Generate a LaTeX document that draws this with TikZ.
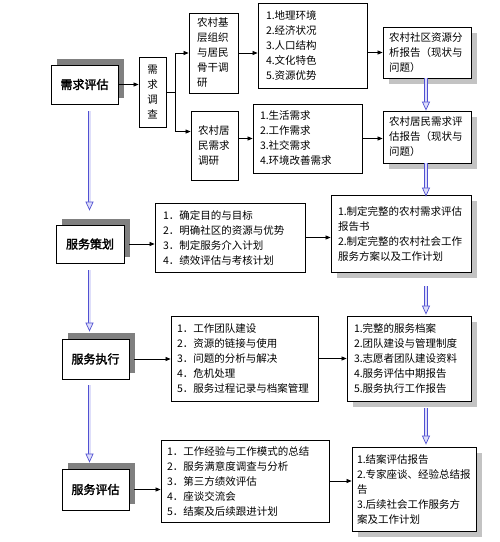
\documentclass[tikz,border=0pt]{standalone}
\usepackage{fontspec}
\newfontfamily\cjk[AutoFakeBold=2]{Noto Sans CJK SC}
\usetikzlibrary{arrows.meta,backgrounds,calc}
\definecolor{arrowblue}{RGB}{80,80,210}
\definecolor{arrowfill}{RGB}{222,222,250}
\definecolor{stageshade}{RGB}{128,128,128}
\definecolor{reportshade}{RGB}{195,195,195}

\begin{document}
\begin{tikzpicture}[x=1pt,y=-1pt,font=\cjk\fontsize{10.5pt}{15pt}\selectfont,
  box/.style={draw, line width=0.8pt, fill=white, inner ysep=0pt, align=left},
  stagebox/.style={box, align=center, inner xsep=0pt, minimum width=67pt, minimum height=40pt,
    font=\cjk\fontsize{12pt}{14pt}\selectfont\bfseries},
  reportbox/.style={box},
  link/.style={-{Triangle[length=5pt,width=4pt]}, line width=0.7pt},
  hollow/.style={draw=arrowblue, double=arrowfill, double distance=2pt, line width=0.7pt,
    -{Triangle[open, length=9pt, width=8pt, fill=arrowfill]}}]

  \useasboundingbox (0,0) rectangle (500,542);

  \node[stagebox, minimum height=39pt] (s1) at (84.5,84.5) {需求评估};
  \node[stagebox, minimum width=68pt, minimum height=38pt] (s2) at (90,244) {服务策划};
  \node[stagebox] (s3) at (95.5,359) {服务执行};
  \node[stagebox, minimum height=41pt] (s4) at (95.5,489.5) {服务评估};

  \node[box, align=center, inner xsep=0pt, minimum width=27pt, minimum height=70pt] (survey) at (152.5,92) {需\\求\\调\\查};
  \node[box, text width=33pt, inner xsep=8pt, minimum height=80pt] (cadre) at (213.5,53) {农村基\\层组织\\与居民\\骨干调\\研};
  \node[box, text width=33pt, inner xsep=7pt, minimum height=69pt] (resident) at (214.5,145.5) {农村居\\民需求\\调研};

  \node[box, text width=93pt, inner xsep=8pt, minimum height=85pt] (env) at (312.5,45.5) {1.地理环境\\2.经济状况\\3.人口结构\\4.文化特色\\5.资源优势};
  \node[box, text width=95pt, inner xsep=7pt, minimum height=69pt] (need) at (307.5,138.5) {1.生活需求\\2.工作需求\\3.社交需求\\4.环境改善需求};
  \node[reportbox, text width=76pt, inner xsep=6pt, minimum height=51pt] (res) at (427,52.5) {农村社区资源分\\析报告（现状与\\问题）};
  \node[reportbox, text width=76pt, inner xsep=6pt, minimum height=52pt] (needrep) at (427,137) {农村居民需求评\\估报告（现状与\\问题）};

  \node[box, text width=134pt, inner xsep=8pt, minimum height=69pt] (plan) at (230,237.5) {1．确定目的与目标\\2．明确社区的资源与优势\\3．制定服务介入计划\\4．绩效评估与考核计划};
  \node[reportbox, text width=126pt, inner xsep=7pt, minimum height=77pt] (planrep) at (401,233.5) {1.制定完整的农村需求评估\\报告书\\2.制定完整的农村社会工作\\服务方案以及工作计划};

  \node[box, text width=135pt, inner xsep=6pt, minimum height=85pt] (act) at (244.5,358.5) {1．工作团队建设\\2．资源的链接与使用\\3．问题的分析与解决\\4．危机处理\\5．服务过程记录与档案管理};
  \node[reportbox, text width=110pt, inner xsep=7pt, minimum height=85pt] (actrep) at (409,358.5) {1.完整的服务档案\\2.团队建设与管理制度\\3.志愿者团队建设资料\\4.服务评估中期报告\\5.服务执行工作报告};

  \node[box, text width=156pt, inner xsep=6pt, minimum height=82pt] (eval) at (245,481) {1．工作经验与工作模式的总结\\2．服务满意度调查与分析\\3．第三方绩效评估\\4．座谈交流会\\5．结案及后续跟进计划};
  \node[reportbox, text width=114pt, inner xsep=5pt, minimum height=84pt] (evalrep) at (414,489) {1.结案评估报告\\2.专家座谈、经验总结报\\告\\3.后续社会工作服务方\\案及工作计划};

  \begin{scope}[on background layer]
    \foreach \n in {s1,s2,s3,s4}
      \fill[stageshade] ([shift={(6pt,6pt)}]\n.south west) rectangle ([shift={(6pt,6pt)}]\n.north east);
    \foreach \n in {res,needrep,planrep,actrep,evalrep}
      \fill[reportshade] ([shift={(6pt,-6pt)}]\n.south west) rectangle ([shift={(6pt,-6pt)}]\n.north east);
  \end{scope}

  \draw[link] (s1.east) -- (s1.east -| survey.west);
  \draw[line width=0.7pt] (survey.east) -- ++(9,0) coordinate (fork);
  \draw[link] (fork) |- (cadre.west);
  \draw[link] (fork) |- ($(resident.north west)!0.3!(resident.south west)$);
  \draw[link] (cadre.east) -- (cadre.east -| env.west);
  \draw[link] (resident.east |- need.west) -- (need.west);
  \draw[link] (env.east |- res.west) -- (res.west);
  \draw[link] (need.east) -- (need.east -| needrep.west);

  \draw[link, shorten <=5pt] (s2.east) -- (s2.east -| plan.west);
  \draw[link, shorten <=5pt] (s3.east) -- (s3.east -| act.west);
  \draw[link, shorten <=5pt] (s4.east) -- (s4.east -| eval.west);
  \draw[link] (plan.east) -- (plan.east -| planrep.west);
  \draw[link] (act.east) -- (act.east -| actrep.west);
  \draw[link] (eval.east) -- (eval.east -| evalrep.west);

  \coordinate (leftaxis) at (89.5,0);
  \coordinate (rightaxis) at (426,0);
  \foreach \a/\b/\s/\e in {s1/s2/7pt/14pt, s2/s3/7pt/7pt, s3/s4/6pt/6pt}
    \draw[hollow, shorten <=\s, shorten >=\e] (\a.south -| leftaxis) -- (\b.north -| leftaxis);
  \foreach \a/\b/\s/\e in {res/needrep/0pt/0pt, needrep/planrep/0pt/-2pt, planrep/actrep/14pt/1pt, actrep/evalrep/7pt/2pt}
    \draw[hollow, shorten <=\s, shorten >=\e] (\a.south -| rightaxis) -- (\b.north -| rightaxis);
\end{tikzpicture}
\end{document}
